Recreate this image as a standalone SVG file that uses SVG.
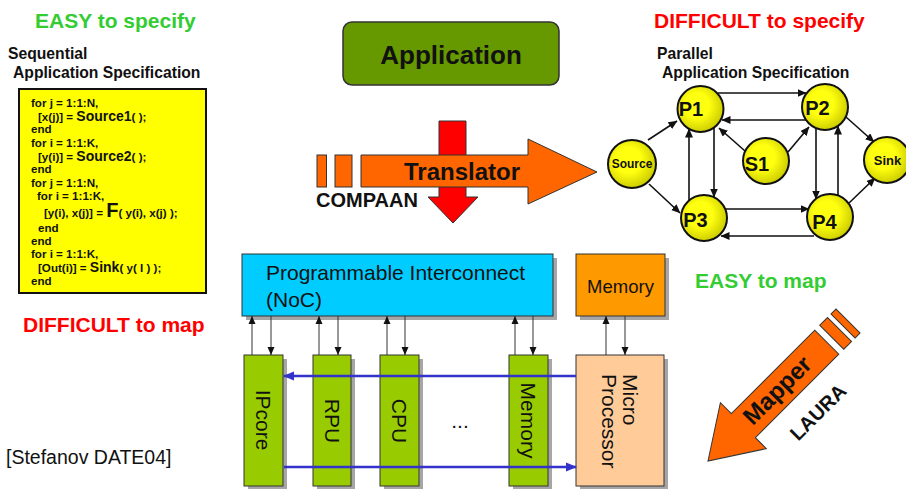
<svg xmlns="http://www.w3.org/2000/svg" width="906" height="489" viewBox="0 0 906 489">
  <defs>
    <style>
      .b { font-family: "Liberation Sans", Arial, sans-serif; font-weight: bold; }
      .r { font-family: "Liberation Sans", Arial, sans-serif; }
      .green { fill: #33cc33; font-size: 21px; }
      .red { fill: #ff0000; font-size: 21px; }
      .head { font-size: 15.7px; fill: #111; }
      .code { font-size: 11.6px; fill: #111; }
      .big { font-size: 14px; }
      .ball { fill: url(#ballFill); stroke: #111; stroke-width: 2; }
      .plbl { font-size: 20px; fill: #111; text-anchor: middle; }
      .edge { stroke: #111; stroke-width: 1.6; fill: none; marker-end: url(#tipG); }
      .link { stroke: #333; stroke-width: 1; fill: none; marker-end: url(#tipS); }
      .bus { stroke: #3333cc; stroke-width: 2.5; fill: none; marker-end: url(#tipB); }
      .shadow { fill: #a6a6a6; }
      .col { fill: #99cc00; stroke: #333; stroke-width: 1; }
      .colt { font-size: 21px; fill: #111; text-anchor: middle; }
      .fat { fill: #ff6600; stroke: #333; stroke-width: 1; }
    </style>
    <radialGradient id="ballFill" cx="0.42" cy="0.42" r="0.6">
      <stop offset="0.45" stop-color="#ffff10"/>
      <stop offset="1" stop-color="#cccc00"/>
    </radialGradient>
    <marker id="tipG" markerUnits="userSpaceOnUse" markerWidth="9" markerHeight="8" refX="8.5" refY="4" orient="auto">
      <path d="M0,0 L9,4 L0,8 z" fill="#111"/>
    </marker>
    <marker id="tipS" markerUnits="userSpaceOnUse" markerWidth="8" markerHeight="8" refX="8" refY="4" orient="auto">
      <path d="M0,0.5 L8,4 L0,7.5 z" fill="#111"/>
    </marker>
    <marker id="tipB" markerUnits="userSpaceOnUse" markerWidth="11" markerHeight="10" refX="10" refY="5" orient="auto">
      <path d="M0,0.5 L11,5 L0,9.5 z" fill="#3333cc"/>
    </marker>
  </defs>

  <rect width="906" height="489" fill="#ffffff"/>

  <!-- captions -->
  <text class="b green" x="35" y="27.5">EASY to specify</text>
  <text class="b red" x="654" y="27.5">DIFFICULT to specify</text>
  <text class="b green" x="695" y="287.5">EASY to map</text>
  <text class="b red" x="23" y="332">DIFFICULT to map</text>
  <text class="r" x="6" y="464" font-size="19.5" fill="#111">[Stefanov DATE04]</text>

  <!-- sequential specification -->
  <g id="seqSpec">
    <text class="b head" x="8" y="59">Sequential</text>
    <text class="b head" x="13" y="78">Application Specification</text>
    <rect x="19" y="89" width="187" height="204" fill="#ffff00" stroke="#111" stroke-width="2"/>
    <g class="b code">
      <text x="31" y="107">for j = 1:1:N,</text>
      <text x="38" y="121">[x(j)] = <tspan class="big">Source1</tspan>( );</text>
      <text x="31" y="133">end</text>
      <text x="31" y="147">for i = 1:1:K,</text>
      <text x="38" y="161">[y(i)] = <tspan class="big">Source2</tspan>( );</text>
      <text x="31" y="173">end</text>
      <text x="31" y="187">for j = 1:1:N,</text>
      <text x="37" y="200">for i = 1:1:K,</text>
      <text x="44" y="217">[y(i), x(j)] = <tspan font-size="20">F</tspan>( y(i), x(j) );</text>
      <text x="38" y="232">end</text>
      <text x="31" y="245">end</text>
      <text x="31" y="258">for i = 1:1:K,</text>
      <text x="38" y="272">[Out(i)] = <tspan class="big">Sink</tspan>( y( I ) );</text>
      <text x="31" y="285">end</text>
    </g>
  </g>

  <!-- application block -->
  <g id="application">
    <rect x="343" y="22" width="216" height="63" rx="9" fill="#669900" stroke="#333" stroke-width="1.5"/>
    <text class="b" x="451" y="64" font-size="26" text-anchor="middle" fill="#111">Application</text>
  </g>

  <!-- translator (COMPAAN) -->
  <g id="translator">
    <polygon points="439,121 466,121 466,197 478,197 453,223 428,197 439,197" fill="#ff0000" stroke="#333" stroke-width="1"/>
    <rect class="fat" x="317" y="155" width="9.5" height="32"/>
    <rect class="fat" x="335" y="155" width="17" height="32"/>
    <polygon class="fat" points="361,155 528,155 528,139 597,172 528,204 528,187 361,187"/>
    <text class="b" x="462" y="180" font-size="24" text-anchor="middle" fill="#111">Translator</text>
    <text class="b" x="316" y="207" font-size="20" fill="#111">COMPAAN</text>
  </g>

  <!-- parallel specification -->
  <g id="parSpecTitle">
    <text class="b head" x="657" y="59">Parallel</text>
    <text class="b head" x="662" y="78">Application Specification</text>
  </g>

  <g id="edges">
    <path class="edge" d="M648,140 L677,121"/>
    <path class="edge" d="M649,184 L680,213"/>
    <path class="edge" d="M718,93 L806,93"/>
    <path class="edge" d="M806,120 L722,120"/>
    <path class="edge" d="M745,151 L719,128"/>
    <path class="edge" d="M788,152 L809,127"/>
    <path class="edge" d="M714,128 L714,197"/>
    <path class="edge" d="M689,201 L689,129"/>
    <path class="edge" d="M816,128 L816,199"/>
    <path class="edge" d="M838,195 L838,126"/>
    <path class="edge" d="M725,209 L809,209"/>
    <path class="edge" d="M814,236 L721,236"/>
    <path class="edge" d="M846,117 L874,142"/>
    <path class="edge" d="M849,203 L875,178"/>
  </g>

  <g id="source">
    <circle class="ball" cx="632" cy="164" r="24"/>
    <text class="b" x="632" y="168" font-size="12" text-anchor="middle" fill="#111">Source</text>
  </g>
  <g id="p1">
    <circle class="ball" cx="700.5" cy="109" r="23"/>
    <text class="b plbl" x="691" y="116">P1</text>
  </g>
  <g id="p2">
    <circle class="ball" cx="825" cy="107" r="23"/>
    <text class="b plbl" x="817.5" y="115">P2</text>
  </g>
  <g id="s1">
    <circle class="ball" cx="766" cy="161" r="23"/>
    <text class="b plbl" x="757" y="171">S1</text>
  </g>
  <g id="p3">
    <circle class="ball" cx="704" cy="218" r="23"/>
    <text class="b plbl" x="695.5" y="227">P3</text>
  </g>
  <g id="p4">
    <circle class="ball" cx="830" cy="217" r="23"/>
    <text class="b plbl" x="824.5" y="229">P4</text>
  </g>
  <g id="sink">
    <circle class="ball" cx="887" cy="160" r="23"/>
    <text class="b" x="887.5" y="164.5" font-size="13" text-anchor="middle" fill="#111">Sink</text>
  </g>

  <!-- platform -->
  <g id="noc">
    <rect class="shadow" x="246" y="258" width="311" height="62"/>
    <rect x="242" y="254" width="311" height="62" fill="#00ccff" stroke="#333" stroke-width="1"/>
    <text class="r" x="266" y="280" font-size="21" fill="#111">Programmable Interconnect</text>
    <text class="r" x="266" y="307" font-size="21" fill="#111">(NoC)</text>
  </g>
  <g id="sharedMemory">
    <rect class="shadow" x="580" y="258" width="89" height="62"/>
    <rect x="576" y="254" width="89" height="62" fill="#ff9900" stroke="#333" stroke-width="1"/>
    <text class="r" x="620.5" y="293" font-size="18.5" text-anchor="middle" fill="#111">Memory</text>
  </g>
  <g id="ipcore">
    <rect class="shadow" x="248" y="359" width="39" height="131"/>
    <rect class="col" x="244" y="355" width="39" height="131"/>
    <text class="r colt" transform="translate(256,420) rotate(90)">IPcore</text>
  </g>
  <g id="rpu">
    <rect class="shadow" x="317" y="359" width="38" height="131"/>
    <rect class="col" x="313" y="355" width="38" height="131"/>
    <text class="r colt" transform="translate(324.5,421) rotate(90)">RPU</text>
  </g>
  <g id="cpu">
    <rect class="shadow" x="384" y="359" width="39" height="131"/>
    <rect class="col" x="380" y="355" width="39" height="131"/>
    <text class="r colt" transform="translate(392,421) rotate(90)">CPU</text>
  </g>
  <g id="localMemory">
    <rect class="shadow" x="513" y="359" width="39" height="131"/>
    <rect class="col" x="509" y="355" width="39" height="131"/>
    <text class="r colt" transform="translate(520.5,420.5) rotate(90)">Memory</text>
  </g>
  <g id="microProcessor">
    <rect class="shadow" x="580" y="359" width="88" height="131"/>
    <rect x="576" y="355" width="88" height="131" fill="#ffcc99" stroke="#333" stroke-width="1"/>
    <text class="r" transform="translate(623,374) rotate(90)" font-size="21" fill="#111">Micro</text>
    <text class="r" transform="translate(601.5,374) rotate(90)" font-size="21" fill="#111">Processor</text>
  </g>
  <text class="r" x="460" y="428" font-size="21" text-anchor="middle" fill="#111">...</text>

  <g id="links">
    <path class="link" d="M252,355 L252,316"/>
    <path class="link" d="M271,316 L271,355"/>
    <path class="link" d="M319,355 L319,316"/>
    <path class="link" d="M338,316 L338,355"/>
    <path class="link" d="M387,355 L387,316"/>
    <path class="link" d="M405,316 L405,355"/>
    <path class="link" d="M515,355 L515,316"/>
    <path class="link" d="M533,316 L533,355"/>
    <path class="link" d="M606,355 L606,316"/>
    <path class="link" d="M625,316 L625,355"/>
    <path class="bus" d="M576,376 L284,376"/>
    <path class="bus" d="M284,467 L576,467"/>
  </g>

  <!-- mapper (LAURA) -->
  <g id="mapper">
    <g transform="translate(708,461) rotate(135)">
      <rect class="fat" x="-198" y="-17" width="7" height="34"/>
      <rect class="fat" x="-186" y="-17" width="11" height="34"/>
      <polygon class="fat" points="-168,-17 -50,-17 -50,-32.5 0,0 -50,32.5 -50,17 -168,17"/>
    </g>
    <text class="b" transform="translate(777,390) rotate(-45)" x="0" y="8.5" font-size="24" text-anchor="middle" fill="#111">Mapper</text>
    <text class="b" transform="translate(818,412) rotate(-45)" x="0" y="7" font-size="20" text-anchor="middle" fill="#111">LAURA</text>
  </g>
</svg>
